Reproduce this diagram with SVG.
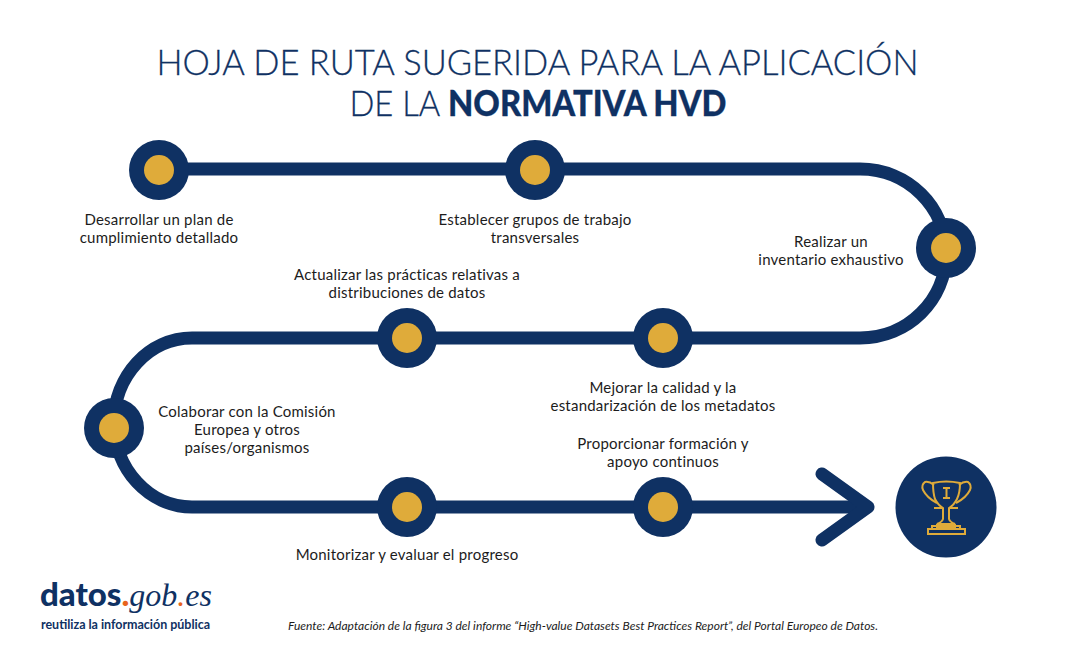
<svg xmlns="http://www.w3.org/2000/svg" width="1075" height="653" viewBox="0 0 1075 653">
<style>
text{font-family:"Lato","Liberation Sans",sans-serif;fill:#1c1c1c}
.l{font-size:15px;text-anchor:middle;letter-spacing:.22px}
.t{font-size:36px;fill:#0f3163;text-anchor:middle;font-weight:300;stroke:#0f3163;stroke-width:.3px}
.o{fill:#0f3163}.i{fill:#dfab3a}
.r{fill:none;stroke:#0f3163;stroke-width:13}
.y{fill:none;stroke:#dfab3a;stroke-width:2}
</style>
<rect width="1075" height="653" fill="#fff"/>
<g id="title"><text class="t" x="537.5" y="75" textLength="762" lengthAdjust="spacingAndGlyphs">HOJA DE RUTA SUGERIDA PARA LA APLICACIÓN</text>
<text class="t" x="538" y="116" textLength="377" lengthAdjust="spacingAndGlyphs">DE LA  <tspan font-weight="900">NORMATIVA HVD</tspan></text></g>
<g id="connectors">
<path class="r" d="M159 169H860C908 169 946 207 946 253.500C946 300 908 338 860 338H192C149 338 114 376 114 422.500C114 469 149 507 192 507H868"/>
<path class="r" d="M822 474L868 507L822 540" stroke-linecap="round" stroke-linejoin="round"/>
</g>
<g id="n1"><circle class="o" cx="159" cy="170" r="30"/><circle class="i" cx="159" cy="170" r="15"/><text class="l" x="159" y="225">Desarrollar un plan de</text><text class="l" x="159" y="243">cumplimiento detallado</text></g>
<g id="n2"><circle class="o" cx="535" cy="170" r="30"/><circle class="i" cx="535" cy="170" r="15"/><text class="l" x="535" y="225">Establecer grupos de trabajo</text><text class="l" x="535" y="243">transversales</text></g>
<g id="n3"><circle class="o" cx="946" cy="248" r="30"/><circle class="i" cx="946" cy="248" r="15"/><text class="l" x="831" y="247">Realizar un</text><text class="l" x="831" y="265">inventario exhaustivo</text></g>
<g id="n4"><circle class="o" cx="663" cy="338" r="30"/><circle class="i" cx="663" cy="338" r="15"/><text class="l" x="663" y="393">Mejorar la calidad y la</text><text class="l" x="663" y="411">estandarización de los metadatos</text></g>
<g id="n5"><circle class="o" cx="407" cy="338" r="30"/><circle class="i" cx="407" cy="338" r="15"/><text class="l" x="407" y="280">Actualizar las prácticas relativas a</text><text class="l" x="407" y="298">distribuciones de datos</text></g>
<g id="n6"><circle class="o" cx="114" cy="428" r="30"/><circle class="i" cx="114" cy="428" r="15"/><text class="l" x="247" y="417">Colaborar con la Comisión</text><text class="l" x="247" y="435">Europea y otros</text><text class="l" x="247" y="453">países/organismos</text></g>
<g id="n7"><circle class="o" cx="407" cy="507" r="30"/><circle class="i" cx="407" cy="507" r="15"/><text class="l" x="407" y="560">Monitorizar y evaluar el progreso</text></g>
<g id="n8"><circle class="o" cx="663" cy="507" r="30"/><circle class="i" cx="663" cy="507" r="15"/><text class="l" x="663" y="449">Proporcionar formación y</text><text class="l" x="663" y="467">apoyo continuos</text></g>
<g id="trophy"><circle class="o" cx="946" cy="507" r="50.500"/>
<path class="y" d="M933 483Q946 480 960 483Q960 493 957 499Q954 505 949 508V519Q950 522 955 524H937Q942 522 943 519V508Q938 505 935 499Q933 493 933 483Z"/>
<path class="y" d="M934 485Q929 481 925 482Q921 485 923 490Q927 498 937 503M959 485Q964 481 968 482Q972 485 970 490Q966 498 956 503"/>
<path class="y" d="M934 508H943M949 508H958M937 524V528H955V524"/>
<path class="y" d="M932 529V526H960V529M928 529H965V534H928Z"/>
<path class="y" d="M943 488H950M946.500 488V498M943 498H950"/></g>
<g id="logo"><text x="40" y="606" font-size="33" font-weight="900" style="fill:#0f3163">datos<tspan style="fill:#e8641c">.</tspan><tspan font-family="Liberation Serif" font-style="italic" font-weight="400" font-size="32">gob<tspan style="fill:#e8641c">.</tspan>es</tspan></text>
<text x="41" y="629" font-size="12.500" font-weight="700" style="fill:#0f3163" textLength="169">reutiliza la información pública</text></g>
<text id="source" x="288" y="630" font-size="10.500" font-style="italic" textLength="590" lengthAdjust="spacingAndGlyphs">Fuente: Adaptación de la figura 3 del informe “High-value Datasets Best Practices Report”, del Portal Europeo de Datos.</text>
</svg>
